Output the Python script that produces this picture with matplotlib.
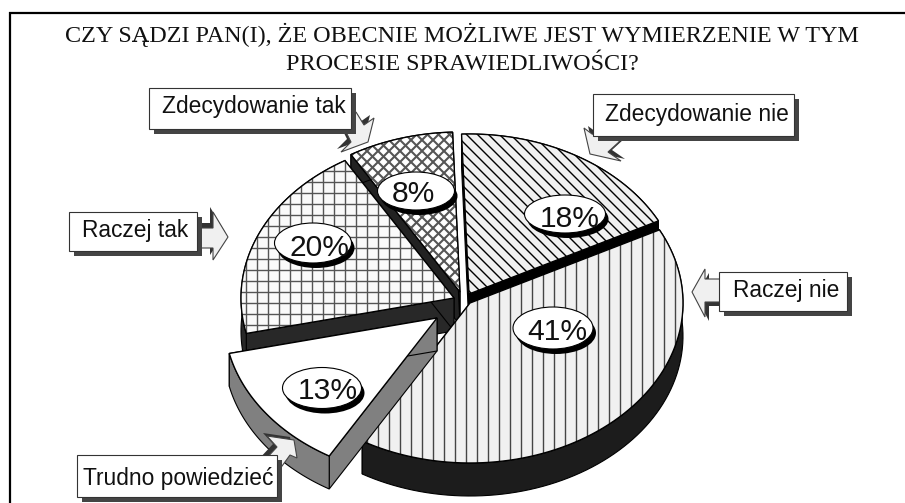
## 3D pie of survey answers, drawn in pixel coordinates

import numpy as np
import matplotlib
matplotlib.use('Agg')
import matplotlib.pyplot as plt
from matplotlib.patches import Ellipse, Polygon, Rectangle
from matplotlib.collections import LineCollection

title_lines = ['CZY SĄDZI PAN(I), ŻE OBECNIE MOŻLIWE JEST WYMIERZENIE W TYM',
               'PROCESIE SPRAWIEDLIWOŚCI?']
answers = ['Zdecydowanie nie', 'Raczej nie', 'Trudno powiedzieć', 'Raczej tak', 'Zdecydowanie tak']
percents = [18, 41, 13, 20, 8]

W, H = 905, 503
rx, ry = 213, 160
depth = 33
start_angle = -2

# apex of each exploded slice
apexes = {'Zdecydowanie nie': (469, 294), 'Raczej nie': (470, 303), 'Trudno powiedzieć': (437, 318),
          'Raczej tak': (454, 298), 'Zdecydowanie tak': (460, 292)}
wall_colors = {'Zdecydowanie nie': '#000000', 'Raczej nie': '#1c1c1c', 'Trudno powiedzieć': '#808080',
               'Raczej tak': '#282828', 'Zdecydowanie tak': '#222222'}
face_colors = {'Zdecydowanie nie': '#f0f0f0', 'Raczej nie': '#f0f0f0', 'Trudno powiedzieć': '#ffffff',
               'Raczej tak': '#fafafa', 'Zdecydowanie tak': '#ffffff'}

# ellipse centre, ellipse size, text x, text baseline
pct_labels = {'Zdecydowanie nie': (565, 214, 81, 38, 540, 227), 'Raczej nie': (553, 328, 80, 42, 527, 340),
              'Trudno powiedzieć': (322, 388, 79, 41, 298, 399), 'Raczej tak': (313, 243, 77, 40, 289, 256),
              'Zdecydowanie tak': (416, 191, 77, 38, 392, 202)}

# box x0, y0, x1, y1, text x, text baseline
boxes = {'Zdecydowanie tak': (149, 88, 351, 129, 162, 113), 'Zdecydowanie nie': (593, 94, 794, 136, 605, 121),
         'Raczej tak': (69, 212, 197, 251, 82, 237), 'Raczej nie': (719, 272, 847, 311, 733, 297),
         'Trudno powiedzieć': (77, 455, 277, 497, 83, 485)}

# callout arrow outlines and their shadow offset
arrows = {
    'Zdecydowanie tak': ([(356, 112), (364, 125), (374, 118), (368, 142), (341, 152), (351, 142), (345, 130)], (-4, -3)),
    'Zdecydowanie nie': ([(584, 128), (590, 154), (621, 161), (608, 152), (620, 141), (592, 134)], (4, -2)),
    'Raczej tak': ([(190, 228), (213, 228), (213, 212), (228, 237), (213, 260), (213, 248), (190, 248)], (-3, -5)),
    'Raczej nie': ([(692, 292), (705, 269), (705, 279), (725, 279), (725, 302), (705, 302), (705, 317)], (4, 4)),
    'Trudno powiedzieć': ([(267, 436), (294, 440), (297, 458), (290, 455), (277, 473), (262, 463), (277, 447)], (-4, -3)),
}

fig = plt.figure(figsize=(W / 100, H / 100), dpi=100)
ax = fig.add_axes([0, 0, 1, 1])
ax.set_xlim(0, W)
ax.set_ylim(H, 0)
ax.axis('off')


def px(size):
    return size * 0.72


def arc_points(apex, t0, t1):
    t = np.radians(np.linspace(t0, t1, 80))
    return np.column_stack([apex[0] + rx * np.sin(t), apex[1] - ry * np.cos(t)])


def hatch_lines(patch, direction, period, origin, color, lw):
    # lines repeating every period px along x (or y for horizontal ones), clipped to the slice
    segs = []
    for k in range(-90, 90):
        if direction == 'v':
            x = origin + k * period
            segs.append([(x, 0), (x, H)])
        elif direction == 'h':
            y = origin + k * period
            segs.append([(0, y), (W, y)])
        elif direction == 'd':
            x = origin + k * period
            segs.append([(x - H, 0), (x, H)])
        elif direction == 'u':
            x = origin + k * period
            segs.append([(x + H, 0), (x, H)])
    lc = LineCollection(segs, colors=color, linewidths=lw, zorder=1)
    ax.add_collection(lc)
    lc.set_clip_path(patch)


def draw_slice(name, t0, t1):
    apex = apexes[name]
    arc = arc_points(apex, t0, t1)
    wall = wall_colors[name]
    down = np.array([0, depth])

    # extruded side: outer rim and the two cut faces
    rim = np.vstack([arc, (arc + down)[::-1]])
    for side in [np.array([apex, arc[0], arc[0] + down, np.array(apex) + down]),
                 np.array([apex, arc[-1], arc[-1] + down, np.array(apex) + down]), rim]:
        ax.add_patch(Polygon(side, closed=True, fc=wall, ec='black', lw=0.8))

    face_pts = np.vstack([[apex], arc])
    face = Polygon(face_pts, closed=True, fc=face_colors[name], ec='none')
    ax.add_patch(face)
    if name == 'Zdecydowanie nie':
        hatch_lines(face, 'd', 11, 461, 'black', 1.0)
    elif name == 'Raczej nie':
        hatch_lines(face, 'v', 11, 466, '#444444', 1.0)
    elif name == 'Raczej tak':
        hatch_lines(face, 'v', 11, 345, '#555555', 1.0)
        hatch_lines(face, 'h', 11, 193, '#555555', 1.0)
    elif name == 'Zdecydowanie tak':
        hatch_lines(face, 'd', 11, 400, '#555555', 1.5)
        hatch_lines(face, 'u', 11, 400, '#555555', 1.5)
    ax.add_patch(Polygon(face_pts, closed=True, fc='none', ec='black', lw=1.0))


# frame, only top and left are in the picture
ax.plot([9, W], [13, 13], color='black', lw=1.6, solid_capstyle='butt', zorder=1)
ax.plot([10, 10], [12, H], color='black', lw=1.6, solid_capstyle='butt', zorder=1)

ax.text(462, 42, title_lines[0], family='Liberation Serif', fontsize=px(24.1), ha='center', va='baseline', color='#111111')
ax.text(462, 70, title_lines[1], family='Liberation Serif', fontsize=px(24.1), ha='center', va='baseline', color='#111111')

edges = start_angle + np.concatenate([[0], np.cumsum(percents)]) * 3.6
ranges = {a: (edges[i], edges[i + 1]) for i, a in enumerate(answers)}

# back slices first, the pulled out one last
for name in ['Zdecydowanie tak', 'Zdecydowanie nie', 'Raczej tak', 'Raczej nie', 'Trudno powiedzieć']:
    draw_slice(name, *ranges[name])

for name, pct in zip(answers, percents):
    cx, cy, w, h, tx, ty = pct_labels[name]
    ax.add_patch(Ellipse((cx + 3, cy + 5), w, h, fc='black', ec='none'))
    ax.add_patch(Ellipse((cx, cy), w, h, fc='white', ec='black', lw=0.8))
    ax.text(tx, ty, f'{pct}%', family='Liberation Sans', fontsize=px(30), ha='left', va='baseline', color='#111111')

for name in answers:
    pts, off = arrows[name]
    pts = np.array(pts, dtype=float)
    ax.add_patch(Polygon(pts + off, closed=True, fc='#333333', ec='none'))
    ax.add_patch(Polygon(pts, closed=True, fc='#f0f0f0', ec='#444444', lw=0.8))

    x0, y0, x1, y1, tx, ty = boxes[name]
    ax.add_patch(Rectangle((x0 + 5, y0 + 5), x1 - x0, y1 - y0, fc='#444444', ec='none'))
    ax.add_patch(Rectangle((x0, y0), x1 - x0, y1 - y0, fc='white', ec='#333333', lw=0.8))
    ax.text(tx, ty, name, family='Liberation Sans', fontsize=px(22.8), ha='left', va='baseline', color='#111111')

fig.savefig('out.png', dpi=100)
